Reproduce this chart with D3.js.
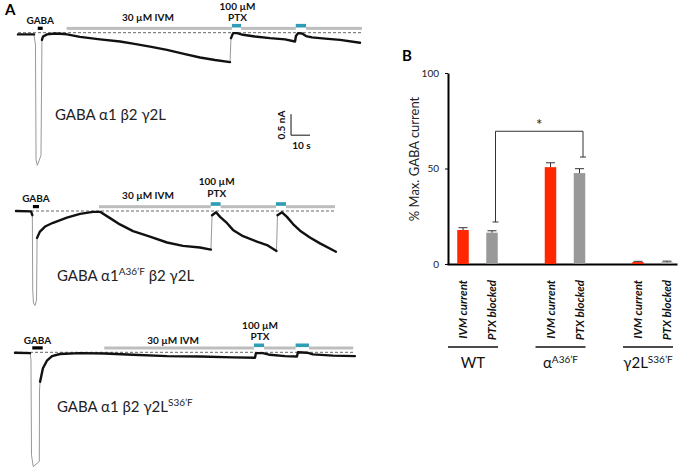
<!DOCTYPE html>
<meta charset="utf-8">
<style>
body { margin: 0; background: #fff; }
svg { font-family: Lato, "Open Sans", sans-serif; }
.slow { fill: none; stroke: #111; stroke-width: 2.4px; stroke-linejoin: round; stroke-linecap: round; }
.fast { fill: none; stroke: #999; stroke-width: 1px; }
.base { stroke: #666; stroke-width: 1px; stroke-dasharray: 3,2; }
.lbl { font-size: 10px; font-weight: bold; text-anchor: middle; fill: #111; }
.axis path, .axis line { stroke: #000; }
</style>
<body>
<script src="https://cdn.jsdelivr.net/npm/d3@7"></script>
<script>

// ---- panel A: current traces, time in s, current in nA ----
var trace1Time = [0, 8.4, 9.2, 9.5, 10.2, 12.1, 12.6, 13.2, 15.3, 19.5, 24.2, 25.8, 32.6, 43.2, 53.7, 60.5, 69.5, 78.4, 87.9, 95.8,
                  103.7, 111.6, 112.1, 113.2, 115.3, 118.4, 124.7, 132.6, 140.5, 145.8, 146.3, 147.4, 149.5, 151.6, 154.7, 161.6, 169.5, 180];
var trace1Current = [-0.04, -0.04, -0.29, -3.03, -3.16, -2.92, -0.17, -0.09, -0.04, -0.02, -0.03, -0.04, -0.10, -0.16, -0.21, -0.26, -0.33, -0.41, -0.51, -0.59,
                     -0.65, -0.70, -0.13, -0.01, -0.01, -0.05, -0.09, -0.13, -0.16, -0.21, -0.08, -0.01, -0.02, -0.08, -0.11, -0.14, -0.17, -0.24];

var trace2Time = [0, 7.9, 8.6, 8.8, 9.2, 10.0, 10.8, 11.1, 12.6, 15.3, 19.5, 26.8, 33.7, 40.5, 44.2, 49.5, 54.7, 61.6, 70.5, 79.5,
                  87.9, 96.8, 102.6, 103.2, 105.3, 107.4, 111.1, 114.2, 119.5, 126.8, 132.1, 137.1, 137.6, 140.0, 142.6, 145.8, 149.5, 154.7, 160.0, 168.4];
var trace2Current = [0, -0.01, -0.10, -1.88, -2.19, -2.25, -2.12, -0.64, -0.49, -0.37, -0.28, -0.16, -0.07, -0.02, -0.02, -0.17, -0.32, -0.48, -0.61, -0.75,
                     -0.83, -0.87, -0.92, -0.10, -0.03, -0.14, -0.29, -0.45, -0.60, -0.73, -0.81, -0.95, -0.10, -0.03, -0.14, -0.31, -0.47, -0.63, -0.77, -0.97];

var trace3Time = [0, 7.9, 8.4, 8.7, 9.6, 12.8, 12.9, 13.2, 14.7, 16.8, 19.5, 23.7, 34.2, 47.4, 62.1, 80.0, 97.4, 114.7, 126.3, 126.8,
                  130.5, 134.2, 142.1, 148.4, 148.9, 153.7, 156.8, 167.4, 178.9];
var trace3Current = [-0.01, -0.02, -0.18, -2.45, -2.72, -2.60, -0.90, -0.70, -0.38, -0.20, -0.09, -0.04, -0.02, -0.03, -0.06, -0.09, -0.10, -0.12, -0.13, -0.02,
                     -0.02, -0.06, -0.09, -0.10, 0, -0.01, -0.05, -0.08, -0.09];

// drug application windows (s)
var gabaOn = [[10.4, 13.0], [8.9, 12.1], [9.1, 14.6]];
var ivmOn = [[25.6, 181], [43.7, 167.9], [47, 178]];
var ptxOn = [[[112.6, 117.4], [146.2, 151.6]],
             [[102.5, 107.7], [136.8, 142.1]],
             [[125.8, 131.1], [147.7, 154.7]]];
var ivmLabelTime = [68.4, 69.5, 83.2];

// trace names, [text, superscript?]
var traceNames = [
  [["GABA \u03b11 \u03b22 \u03b32L", false]],
  [["GABA \u03b11", false], ["A36\u2019F", true], [" \u03b22 \u03b32L", false]],
  [["GABA \u03b11 \u03b22 \u03b32L", false], ["S36\u2019F", true]]
];

// ---- panel B: bar chart ----
var groups = ["WT", "A36", "G2"];
var series = ["IVM current", "PTX blocked"];
var ivmMean = [17.8, 50.7, 1.0], ivmErr = [1.2, 2.3, 0.4];
var ptxMean = [16.4, 47.6, 0.9], ptxErr = [1.0, 2.3, 0.6];
var yTicks = [0, 50, 100];
var bracketEnds = [22, 56], bracketTop = 69.5;

var svg = d3.select("body").append("svg")
    .attr("width", 680)
    .attr("height", 470);

// layout of the three traces (origin x, baseline y, label offsets)
var layout = [
  {x0: 18, y0: 32.7, gabaDy: -9, ivmDy: -12, ptxDy: [-23, -12.2], nameX: 55, nameY: 113.5},
  {x0: 16, y0: 211, gabaDy: -9.5, ivmDy: -12, ptxDy: [-25.8, -14.5], nameX: 57, nameY: 275},
  {x0: 15, y0: 352.3, gabaDy: -8.3, ivmDy: -8, ptxDy: [-23.8, -12.8], nameX: 57, nameY: 406}
];
var traces = [[trace1Time, trace1Current], [trace2Time, trace2Current], [trace3Time, trace3Current]];

var scalesA = [];

traces.forEach(function(tr, n) {
  var L = layout[n];
  var x = d3.scaleLinear().domain([0, 100]).range([L.x0, L.x0 + 190]);   // 10 s = 19 px
  var y = d3.scaleLinear().domain([0, -1]).range([L.y0, L.y0 + 42]);     // 0.5 nA = 21 px
  scalesA.push({x: x, y: y});
  var g = svg.append("g");

  // dashed zero line
  g.append("line").attr("class", "base")
      .attr("x1", x(0)).attr("x2", x(ivmOn[n][1]))
      .attr("y1", y(0)).attr("y2", y(0));

  // grey IVM bar, broken where PTX is on
  var cuts = [ivmOn[n][0]];
  ptxOn[n].forEach(function(p) { cuts.push(p[0], p[1]); });
  cuts.push(ivmOn[n][1]);
  for (var k = 0; k < cuts.length; k += 2) {
    g.append("rect")
        .attr("x", x(cuts[k])).attr("width", x(cuts[k + 1]) - x(cuts[k]))
        .attr("y", L.y0 - 5.8).attr("height", 3)
        .attr("fill", "#bdbdbd");
  }
  ptxOn[n].forEach(function(p) {
    g.append("rect")
        .attr("x", x(p[0])).attr("width", x(p[1]) - x(p[0]))
        .attr("y", L.y0 - 8.8).attr("height", 3.6)
        .attr("fill", "#2f9db3");
  });
  g.append("rect")
      .attr("x", x(gabaOn[n][0])).attr("width", x(gabaOn[n][1]) - x(gabaOn[n][0]))
      .attr("y", L.y0 - 6).attr("height", 3.2)
      .attr("fill", "#000");

  // labels
  g.append("text").attr("class", "lbl")
      .attr("x", x((gabaOn[n][0] + gabaOn[n][1]) / 2)).attr("y", L.y0 + L.gabaDy)
      .text("GABA");
  g.append("text").attr("class", "lbl")
      .attr("x", x(ivmLabelTime[n])).attr("y", L.y0 + L.ivmDy)
      .text("30 \u00b5M IVM");
  var pc = x((ptxOn[n][0][0] + ptxOn[n][0][1]) / 2) + 1;
  g.append("text").attr("class", "lbl").attr("x", pc).attr("y", L.y0 + L.ptxDy[0]).text("100 \u00b5M");
  g.append("text").attr("class", "lbl").attr("x", pc).attr("y", L.y0 + L.ptxDy[1]).text("PTX");

  // trace: slow parts thick black, fast jumps and the deep GABA peak thin grey
  var pts = tr[0].map(function(t, k) { return [x(t), y(tr[1][k])]; });
  var runs = [], fastSegs = [], cur = [pts[0]];
  for (var k = 1; k < pts.length; k++) {
    var a = pts[k - 1], b = pts[k];
    var dy = Math.abs(b[1] - a[1]), dx = Math.abs(b[0] - a[0]);
    var deep = tr[1][k - 1] < -1.5 && tr[1][k] < -1.5;
    if ((dy > 3 && dy > 6 * dx) || deep) {
      fastSegs.push([a, b]);
      if (cur.length > 1) runs.push(cur);
      cur = [b];
    } else {
      cur.push(b);
    }
  }
  if (cur.length > 1) runs.push(cur);

  var line = d3.line();
  fastSegs.forEach(function(s) { g.append("path").attr("class", "fast").attr("d", line(s)); });
  runs.forEach(function(r) { g.append("path").attr("class", "slow").attr("d", line(r)); });

  // name
  var nm = g.append("text")
      .attr("x", L.nameX).attr("y", L.nameY)
      .attr("font-size", 15).attr("fill", "#222");
  traceNames[n].forEach(function(p) {
    if (p[1]) nm.append("tspan").attr("font-size", 10).attr("dy", -6).text(p[0]);
    else nm.append("tspan").attr("dy", nm.selectAll("tspan").size() ? 6 : 0).text(p[0]);
  });
});

// scale bar (drawn in trace 1 units)
var sx = scalesA[0].x, sy = scalesA[0].y;
svg.append("path")
    .attr("d", d3.line()([[sx(143.7), sy(-1.94)], [sx(143.7), sy(-2.44)], [sx(153.7), sy(-2.44)]]))
    .attr("fill", "none").attr("stroke", "#111").attr("stroke-width", 1);
svg.append("text").attr("class", "lbl")
    .attr("transform", "translate(" + (sx(143.7) - 6) + "," + sy(-2.2) + ") rotate(-90)")
    .text("0.5 nA");
svg.append("text").attr("class", "lbl")
    .attr("x", sx(148.7) + 1).attr("y", sy(-2.44) + 14)
    .text("10 s");

svg.append("text").attr("x", 5).attr("y", 15)
    .attr("font-size", 15).attr("font-weight", "bold").text("A");

// ---- panel B ----
var yB = d3.scaleLinear().domain([0, 100]).range([264, 73]);
var xG = d3.scalePoint().domain(groups).range([477.5, 652.5]);
var xS = d3.scalePoint().domain(series).range([-14.5, 14.5]);
var bw = 11.5;

svg.append("text").attr("x", 402).attr("y", 61)
    .attr("font-size", 15).attr("font-weight", "bold").text("B");

var yAx = svg.append("g").attr("class", "axis")
    .attr("transform", "translate(448,0)")
    .call(d3.axisLeft(yB).tickValues(yTicks).tickSize(3).tickSizeOuter(0).tickPadding(6));
yAx.select(".domain").attr("stroke-width", 2);
yAx.selectAll("text").attr("font-size", 10).attr("font-family", "Lato, sans-serif").attr("fill", "#222");

var xAx = svg.append("g").attr("class", "axis")
    .attr("transform", "translate(0,264)")
    .call(d3.axisBottom(d3.scaleLinear().range([447, 677])).ticks(0).tickSizeOuter(0));
xAx.select(".domain").attr("stroke-width", 2);

svg.append("text")
    .attr("transform", "translate(419,159) rotate(-90)")
    .attr("text-anchor", "middle")
    .attr("font-size", 13).attr("fill", "#222")
    .text("% Max. GABA current");

var bars = [];
groups.forEach(function(g, i) {
  bars.push({g: g, s: series[0], v: ivmMean[i], e: ivmErr[i], c: "#ff2600"});
  bars.push({g: g, s: series[1], v: ptxMean[i], e: ptxErr[i], c: "#999999"});
});
function cx(d) { return xG(d.g) + xS(d.s); }

svg.selectAll(".bar").data(bars).enter().append("rect")
    .attr("class", "bar")
    .attr("x", function(d) { return cx(d) - bw / 2; })
    .attr("width", bw)
    .attr("y", function(d) { return yB(d.v); })
    .attr("height", function(d) { return yB(0) - yB(d.v); })
    .attr("fill", function(d) { return d.c; });

var err = svg.selectAll(".err").data(bars).enter().append("g").attr("class", "err");
err.append("line")
    .attr("x1", cx).attr("x2", cx)
    .attr("y1", function(d) { return yB(d.v); })
    .attr("y2", function(d) { return yB(d.v + d.e); })
    .attr("stroke", "#333").attr("stroke-width", 1);
err.append("line")
    .attr("x1", function(d) { return cx(d) - 4.5; })
    .attr("x2", function(d) { return cx(d) + 4.5; })
    .attr("y1", function(d) { return yB(d.v + d.e); })
    .attr("y2", function(d) { return yB(d.v + d.e); })
    .attr("stroke", "#333").attr("stroke-width", 1);

svg.selectAll(".cat").data(bars).enter().append("text")
    .attr("class", "cat")
    .attr("transform", function(d) { return "translate(" + (cx(d) + 4) + ",280) rotate(-90)"; })
    .attr("text-anchor", "end")
    .attr("font-size", 11.5).attr("font-style", "italic").attr("font-weight", "bold")
    .attr("fill", "#111")
    .text(function(d) { return d.s; });

// group underlines and names
var groupNames = [[["WT", false]], [["\u03b1", false], ["A36\u2019F", true]], [["\u03b32L", false], ["S36\u2019F", true]]];
groups.forEach(function(g, i) {
  var c = xG(g) - 4.5;
  svg.append("line")
      .attr("x1", c - 25).attr("x2", c + 25).attr("y1", 347).attr("y2", 347)
      .attr("stroke", "#111").attr("stroke-width", 1.5);
  var t = svg.append("text").attr("x", c).attr("y", 368)
      .attr("text-anchor", "middle").attr("font-size", 15).attr("fill", "#111");
  groupNames[i].forEach(function(p) {
    if (p[1]) t.append("tspan").attr("font-size", 10).attr("dy", -5).text(p[0]);
    else t.append("tspan").text(p[0]);
  });
});

// significance bracket
var bl = xG("WT") + xS("PTX blocked") + 3.5, br = xG("A36") + xS("PTX blocked") + 3.5;
svg.append("path")
    .attr("d", d3.line()([[bl, yB(bracketEnds[0])], [bl, yB(bracketTop)], [br, yB(bracketTop)], [br, yB(bracketEnds[1])]]))
    .attr("fill", "none").attr("stroke", "#333").attr("stroke-width", 1);
[[bl, bracketEnds[0]], [br, bracketEnds[1]]].forEach(function(p) {
  svg.append("line")
      .attr("x1", p[0] - 3).attr("x2", p[0] + 3)
      .attr("y1", yB(p[1])).attr("y2", yB(p[1]))
      .attr("stroke", "#333").attr("stroke-width", 1);
});
svg.append("text")
    .attr("x", (bl + br) / 2).attr("y", yB(bracketTop) - 1)
    .attr("text-anchor", "middle").attr("font-size", 15).attr("fill", "#222")
    .text("*");

</script>
</body>
